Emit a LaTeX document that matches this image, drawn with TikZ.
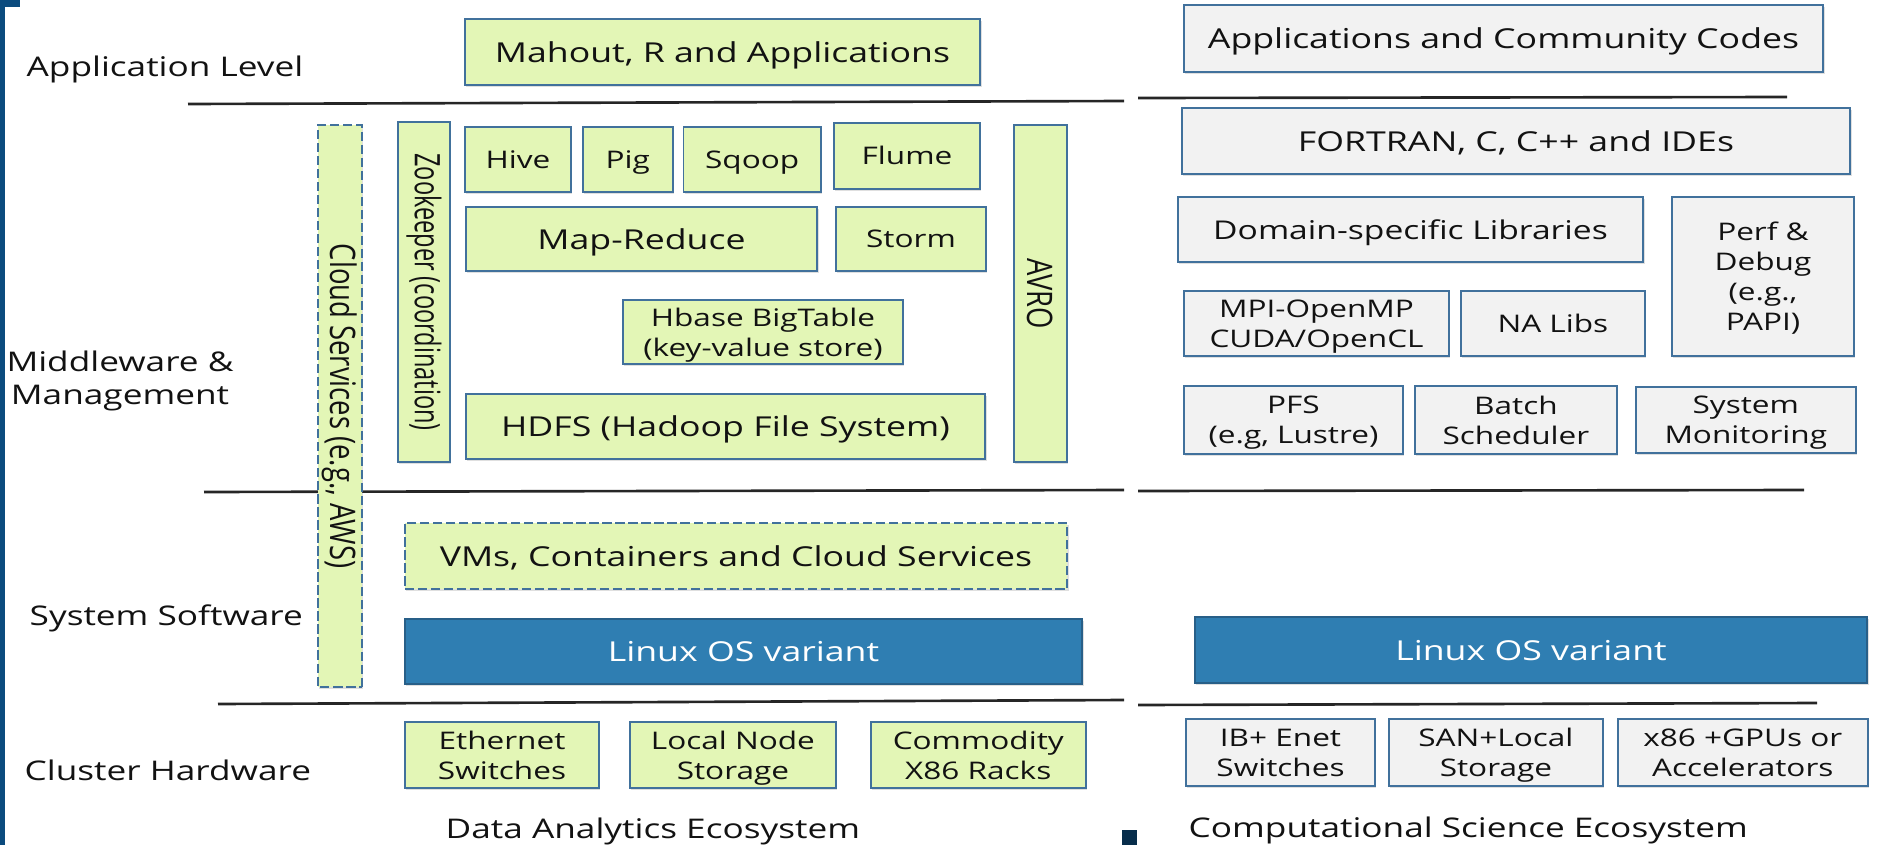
\documentclass[tikz,border=0pt]{standalone}
\usepackage{fontspec}
\setmainfont{Open Sans}[FakeStretch=1.3]
\newfontfamily\zkfont{Open Sans}[FakeStretch=0.67]
\newfontfamily\rotfont{Open Sans}[FakeStretch=0.78]
\usetikzlibrary{positioning,shadows}
\definecolor{greenfill}{HTML}{E3F6B6}
\definecolor{grayfill}{HTML}{F2F2F2}
\definecolor{edgeblue}{HTML}{41719C}
\definecolor{osblue}{HTML}{2F7EB2}
\definecolor{osedge}{HTML}{285F88}
\definecolor{slidenavy}{HTML}{0B4B7E}
\definecolor{txt}{HTML}{121212}
\newcommand\fbig{\fontsize{7.8pt}{9pt}\selectfont}
\newcommand\fmid{\fontsize{7.35pt}{9pt}\selectfont}
\newcommand\fsmall{\fontsize{6.9pt}{8.5pt}\selectfont}
\newcommand\flabel{\fontsize{7.7pt}{9.4pt}\selectfont}
\newcommand\frot{\rotfont\fontsize{10pt}{12pt}\selectfont}
\tikzset{block/.style={draw=edgeblue,line width=0.5pt,fill=greenfill,inner sep=0pt,align=center,text=txt,font=\fbig,drop shadow={shadow xshift=0.4pt,shadow yshift=-0.6pt,opacity=0.25}}}
\tikzset{gblock/.style={block,fill=grayfill}}
\tikzset{dashbox/.style={block,dash pattern=on 2.6pt off 1.1pt}}
\tikzset{osbox/.style={block,fill=osblue,draw=osedge,text=white}}
\tikzset{wh/.style 2 args={minimum width=#1cm,minimum height=#2cm}}
\tikzset{tb/.style={text height=5.9pt,text depth=0.2pt}}
\tikzset{ts/.style={text height=5.25pt,text depth=0.2pt}}
\tikzset{lbl/.style={inner sep=0pt,text=txt,font=\flabel}}
\tikzset{sep/.style={line width=0.75pt,draw=black!85}}

\begin{document}
\begin{tikzpicture}[x=0.01cm,y=-0.01cm]
    \useasboundingbox (0,0) rectangle (1878,845);
    \fill[slidenavy] (0,0) rectangle (5,845);
    \fill[slidenavy] (0,0) rectangle (20,7);
    \fill[slidenavy!60!black] (1122,830) rectangle (1137,845);

    \foreach \xa/\ya/\xb/\yb in {188/104/1124/101, 204/492/1124/490, 218/704/1124/700,
        1138/98/1787/97, 1138/491/1804/490, 1138/705/1817/703}
        \draw [sep] (\xa,\ya) -- (\xb,\yb);

    \node (AppLvl) [lbl,anchor=base west] at (26,76) {Application Level};
    \node (MidMgmt) [lbl,align=center] at (120,380.5) {Middleware \&\\Management};
    \node (SysSw) [lbl,anchor=base west] at (29,625) {System Software};
    \node (ClHw) [lbl,anchor=base west] at (24,780) {Cluster Hardware};
    \node (DataEco) [lbl,anchor=base west] at (445,838) {Data Analytics Ecosystem};
    \node (CompEco) [lbl,anchor=base west] at (1188,837) {Computational Science Ecosystem};

    \node (Mahout) [block,tb,wh={5.15}{0.66}] at (722.5,52) {Mahout, R and Applications};
    \node (Cloud) [dashbox,rotate=-90,wh={5.62}{0.44},font=\frot] at (340,406) {Cloud Services (e.g., AWS)};
    \node (ZK) [block,rotate=-90,wh={3.40}{0.52},font={\zkfont\fontsize{10pt}{12pt}\selectfont}] at (424,292) {Zookeeper (coordination)};
    \node (Hive) [block,ts,wh={1.06}{0.65},font=\fsmall] at (518,159.5) {Hive};
    \node (Pig) [block,ts,wh={0.90}{0.65},font=\fsmall,right=0.1cm of Hive] {Pig};
    \node (Sqoop) [block,ts,wh={1.37}{0.65},font=\fsmall,right=0.09cm of Pig] {Sqoop};
    \node (Flume) [block,ts,wh={1.46}{0.66},font=\fsmall] at (907,156) {Flume};
    \node (MapRed) [block,tb,wh={3.51}{0.64}] at (641.5,239) {Map-Reduce};
    \node (Storm) [block,ts,wh={1.50}{0.64},font=\fsmall] at (911,239) {Storm};
    \node (AVRO) [block,rotate=-90,wh={3.37}{0.53},font=\frot] at (1040.5,293.5) {AVRO};
    \node (Hbase) [block,wh={2.80}{0.64},font=\fsmall] at (763,332) {Hbase BigTable\\\smash{(key-value store)}};
    \node (HDFS) [block,tb,wh={5.19}{0.65}] at (725.5,426.5) {HDFS (Hadoop File System)};
    \node (VMs) [dashbox,tb,wh={6.62}{0.66}] at (736,556) {VMs, Containers and Cloud Services};
    \node (LinuxA) [osbox,tb,wh={6.77}{0.65}] at (743.5,651.5) {Linux OS variant};
    \node (Eth) [block,wh={1.94}{0.66},font=\fsmall] at (502,755) {Ethernet\\Switches};
    \node (LocStore) [block,wh={2.06}{0.66},font=\fsmall,right=0.29cm of Eth] {Local Node\\\smash{Storage}};
    \node (Racks) [block,wh={2.15}{0.66},font=\fsmall,right=0.33cm of LocStore] {Commodity\\X86 Racks};

    \node (Apps) [gblock,tb,wh={6.39}{0.67}] at (1503.5,38.5) {Applications and Community Codes};
    \node (Fortran) [gblock,tb,wh={6.68}{0.66}] at (1516,141) {FORTRAN, C, C++ and IDEs};
    \node (Domain) [gblock,tb,wh={4.65}{0.65},font=\fmid] at (1410.5,229.5) {Domain-specific Libraries};
    \node (Perf) [gblock,wh={1.82}{1.59},font=\fsmall] at (1763,276.5) {Perf \&\\Debug\\(e.g.,\\\smash{PAPI)}};
    \node (MPI) [gblock,wh={2.65}{0.65},font=\fsmall] at (1316.5,323.5) {MPI-OpenMP\\\smash{CUDA/OpenCL}};
    \node (NALibs) [gblock,ts,wh={1.84}{0.65},font=\fsmall,right=0.1cm of MPI] {NA Libs};
    \node (PFS) [gblock,wh={2.19}{0.68},font=\fsmall] at (1293.5,420) {PFS\\\smash{(e.g, Lustre)}};
    \node (Batch) [gblock,wh={2.02}{0.68},font=\fsmall,right=0.1cm of PFS] {Batch\\Scheduler};
    \node (SysMon) [gblock,wh={2.20}{0.66},font=\fsmall,right=0.17cm of Batch] {System\\\smash{Monitoring}};
    \node (LinuxB) [osbox,tb,wh={6.72}{0.66}] at (1531,650) {Linux OS variant};
    \node (IB) [gblock,wh={1.89}{0.67},font=\fsmall] at (1280.5,752.5) {IB+ Enet\\Switches};
    \node (SAN) [gblock,wh={2.14}{0.67},font=\fsmall,right=0.12cm of IB] {SAN+Local\\\smash{Storage}};
    \node (GPU) [gblock,wh={2.50}{0.67},font=\fsmall,right=0.13cm of SAN] {x86 +GPUs or\\Accelerators};
\end{tikzpicture}
\end{document}
